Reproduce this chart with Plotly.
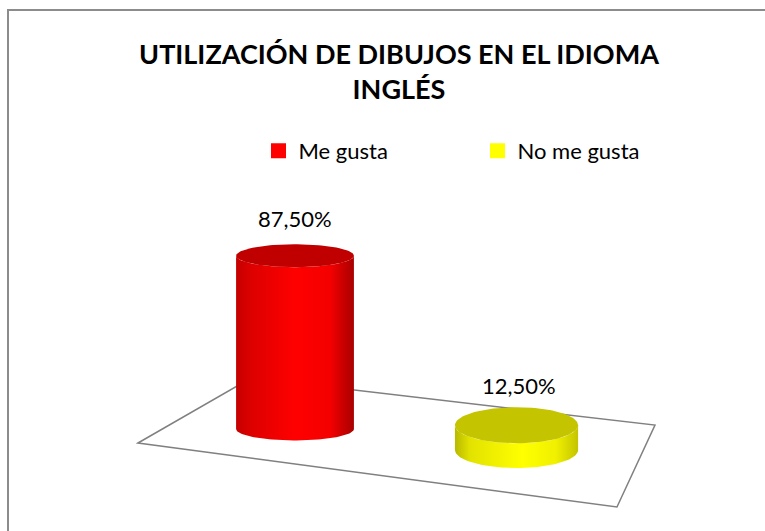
import numpy as np
import plotly.graph_objects as go

# DATA
categories = ['Me gusta', 'No me gusta']
values = [87.5, 12.5]
labels = ['87,50%', '12,50%']

# STYLE (3D look of the Excel cylinders)
body_scales = [
    [[0, '#c40000'], [0.12, '#dc0000'], [0.5, '#ff0000'], [0.8, '#f40000'], [1, '#a80000']],
    [[0, '#b8b800'], [0.12, '#e2e200'], [0.55, '#ffff00'], [0.82, '#f0f000'], [1, '#c4c400']],
]
top_colors = ['#c00000', '#c4c400']
legend_colors = ['#ff0000', '#ffff00']
base_offset = [0.0, -10.6]      # floor is tilted, second cylinder stands lower
semi_x = [0.266, 0.278]         # ellipse half width (x units)
semi_y = [5.8, 9.1]             # ellipse half height (y units)
label_shift = [37, 40]

W, H = 765, 531
PX_X, PX_Y = 221.5, 1.98        # pixels per axis unit
X0_PX, Y0_PX = 295, 429         # pixel of category 0 / value 0

fig = go.Figure()

t_low = np.linspace(np.pi, 2 * np.pi, 60)
t_all = np.linspace(0, 2 * np.pi, 120)

for i, (cat, val) in enumerate(zip(categories, values)):
    cx = i
    yb = base_offset[i]
    yt = yb + val
    a, b = semi_x[i], semi_y[i]
    # side of the cylinder
    xs = np.concatenate([cx + a * np.cos(t_low), cx + a * np.cos(t_low[::-1])])
    ys = np.concatenate([yb + b * np.sin(t_low), yt + b * np.sin(t_low[::-1])])
    fig.add_trace(go.Scatter(x=xs, y=ys, mode='lines', fill='toself', line=dict(width=0),
                             fillgradient=dict(type='horizontal', colorscale=body_scales[i]),
                             hoverinfo='skip', showlegend=False))
    # top face
    fig.add_trace(go.Scatter(x=cx + a * np.cos(t_all), y=yt + b * np.sin(t_all), mode='lines',
                             fill='toself', fillcolor=top_colors[i], line=dict(width=0),
                             hoverinfo='skip', showlegend=False))
    # legend entry
    fig.add_trace(go.Scatter(x=[None], y=[None], mode='markers', name=cat,
                             marker=dict(symbol='square', size=15, color=legend_colors[i])))
    fig.add_annotation(x=cx + 0.01 * i, y=yt, text=labels[i], showarrow=False, yshift=label_shift[i],
                       font=dict(family='Lato', size=22, color='black'))


def paper(px, py):
    return px / W, 1 - py / H


# floor of the plot
floor = [paper(138, 443), paper(251, 378), paper(655, 425), paper(617, 507)]
path = 'M ' + ' L '.join(f'{x:.4f},{y:.4f}' for x, y in floor) + ' Z'
fig.add_shape(type='path', path=path, xref='paper', yref='paper', layer='below',
              line=dict(color='#808080', width=1.5))

# chart border
fig.add_shape(type='rect', xref='paper', yref='paper', x0=8 / W, x1=1.05, y0=-0.05, y1=1 - 10 / H,
              line=dict(color='#8c8c8c', width=2), layer='below')

fig.update_layout(
    width=W, height=H,
    margin=dict(l=0, r=0, t=0, b=0),
    paper_bgcolor='white', plot_bgcolor='white',
    title=dict(text='<b>UTILIZACIÓN DE DIBUJOS EN EL IDIOMA<br>INGLÉS</b>',
               x=399 / W, xanchor='center', y=1 - 64 / H, yanchor='top',
               font=dict(family='Lato', size=27, color='black')),
    legend=dict(orientation='h', x=258.5 / W, xanchor='left', y=1 - 130 / H, yanchor='top',
                font=dict(family='Lato', size=22, color='black'),
                itemsizing='trace', entrywidth=174, entrywidthmode='pixels',
                bgcolor='rgba(0,0,0,0)'),
    xaxis=dict(range=[-X0_PX / PX_X, (W - X0_PX) / PX_X], visible=False, fixedrange=True),
    yaxis=dict(range=[-(H - Y0_PX) / PX_Y, Y0_PX / PX_Y], visible=False, fixedrange=True),
    showlegend=True,
)

fig.write_html('out.html', config={'displayModeBar': False},
               post_script="document.body.style.margin='0px';")
